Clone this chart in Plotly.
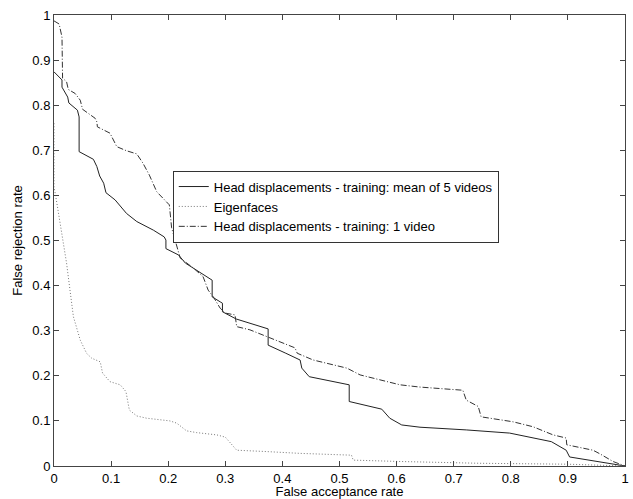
import plotly.graph_objects as go

# Head displacements - training: mean of 5 videos (solid)
mean5_x = [0.0, 0.014, 0.014, 0.024, 0.026, 0.041, 0.044, 0.044, 0.069, 0.075, 0.080, 0.087,
           0.091, 0.107, 0.127, 0.145, 0.174, 0.193, 0.196, 0.196, 0.218, 0.230, 0.277, 0.277,
           0.291, 0.295, 0.295, 0.319, 0.375, 0.375, 0.406, 0.431, 0.434, 0.447, 0.517, 0.517,
           0.574, 0.588, 0.609, 0.641, 0.722, 0.798, 0.871, 0.897, 0.903, 1.0]
mean5_y = [0.874, 0.856, 0.840, 0.818, 0.805, 0.789, 0.774, 0.697, 0.680, 0.664, 0.643, 0.627,
           0.606, 0.590, 0.560, 0.542, 0.523, 0.508, 0.501, 0.482, 0.468, 0.450, 0.412, 0.375,
           0.364, 0.361, 0.342, 0.326, 0.304, 0.268, 0.250, 0.235, 0.217, 0.198, 0.180, 0.143,
           0.126, 0.106, 0.091, 0.086, 0.080, 0.073, 0.054, 0.035, 0.020, 0.0]

# Eigenfaces (dotted)
eig_x = [0.0, 0.0, 0.005, 0.009, 0.015, 0.022, 0.028, 0.031, 0.034, 0.046, 0.057, 0.066,
         0.081, 0.085, 0.098, 0.116, 0.126, 0.132, 0.145, 0.162, 0.203, 0.215, 0.232, 0.250,
         0.285, 0.300, 0.320, 0.372, 0.431, 0.521, 0.524, 0.606, 0.746, 0.900, 1.0]
eig_y = [0.760, 0.620, 0.583, 0.553, 0.508, 0.450, 0.390, 0.353, 0.331, 0.279, 0.250, 0.239,
         0.231, 0.206, 0.187, 0.180, 0.165, 0.124, 0.111, 0.106, 0.100, 0.095, 0.078, 0.074,
         0.069, 0.064, 0.035, 0.032, 0.028, 0.024, 0.013, 0.010, 0.006, 0.004, 0.0]

# Head displacements - training: 1 video (dash-dot)
one_x = [0.0, 0.009, 0.014, 0.015, 0.022, 0.025, 0.037, 0.046, 0.050, 0.072, 0.075, 0.076,
         0.098, 0.110, 0.127, 0.145, 0.156, 0.167, 0.180, 0.202, 0.206, 0.214, 0.221, 0.244,
         0.261, 0.270, 0.279, 0.291, 0.300, 0.317, 0.320, 0.343, 0.396, 0.422, 0.426, 0.454,
         0.513, 0.536, 0.606, 0.641, 0.716, 0.722, 0.743, 0.748, 0.804, 0.839, 0.874, 0.897,
         0.898, 0.944, 0.956, 0.979, 1.0]
one_y = [0.987, 0.980, 0.951, 0.860, 0.852, 0.835, 0.826, 0.811, 0.791, 0.771, 0.763, 0.752,
         0.738, 0.708, 0.699, 0.692, 0.671, 0.645, 0.608, 0.579, 0.528, 0.490, 0.461, 0.439,
         0.420, 0.390, 0.375, 0.350, 0.339, 0.335, 0.309, 0.302, 0.276, 0.262, 0.250, 0.235,
         0.217, 0.202, 0.180, 0.175, 0.168, 0.146, 0.132, 0.109, 0.098, 0.087, 0.069, 0.062,
         0.047, 0.035, 0.027, 0.010, 0.0]

tick_vals = [0, 0.1, 0.2, 0.3, 0.4, 0.5, 0.6, 0.7, 0.8, 0.9, 1]
tick_text = ["0", "0.1", "0.2", "0.3", "0.4", "0.5", "0.6", "0.7", "0.8", "0.9", "1"]

names = ["Head displacements - training: mean of 5 videos",
         "Eigenfaces",
         "Head displacements - training: 1 video"]

fig = go.Figure()
fig.add_trace(go.Scatter(x=mean5_x, y=mean5_y, mode="lines", name=names[0],
                         line=dict(color="#222222", width=1)))
fig.add_trace(go.Scatter(x=eig_x, y=eig_y, mode="lines", name=names[1],
                         line=dict(color="#777777", width=1, dash="1px,2px")))
fig.add_trace(go.Scatter(x=one_x, y=one_y, mode="lines", name=names[2],
                         line=dict(color="#333333", width=1, dash="6px,2px,1px,2px")))

axis_common = dict(showgrid=False, zeroline=False, showline=True, linecolor="#444444",
                   linewidth=1, mirror="ticks", ticks="inside", ticklen=5,
                   tickcolor="#444444", tickfont=dict(size=13, color="black"),
                   tickmode="array", tickvals=tick_vals, ticktext=tick_text,
                   ticklabeloverflow="allow", automargin=False)

fig.update_xaxes(range=[0, 1],
                 title=dict(text="False acceptance rate",
                            font=dict(size=13, color="black"), standoff=0), **axis_common)
fig.update_yaxes(range=[0, 1], title=dict(text="False rejection rate",
                 font=dict(size=13, color="black"), standoff=6), **axis_common)

fig.update_layout(
    width=633, height=499,
    margin=dict(l=54, r=8, t=15, b=33, autoexpand=False),
    paper_bgcolor="white", plot_bgcolor="white",
    font=dict(family="Liberation Sans, Arial, sans-serif", size=13, color="black"),
    legend=dict(x=0.208, y=0.655, xanchor="left", yanchor="top",
                bordercolor="#333333", borderwidth=1, bgcolor="white",
                font=dict(size=13, color="black"), tracegroupgap=0),
    showlegend=True,
)

fig.write_html("out.html", config={"displayModeBar": False},
               post_script="document.body.style.margin='0';")
